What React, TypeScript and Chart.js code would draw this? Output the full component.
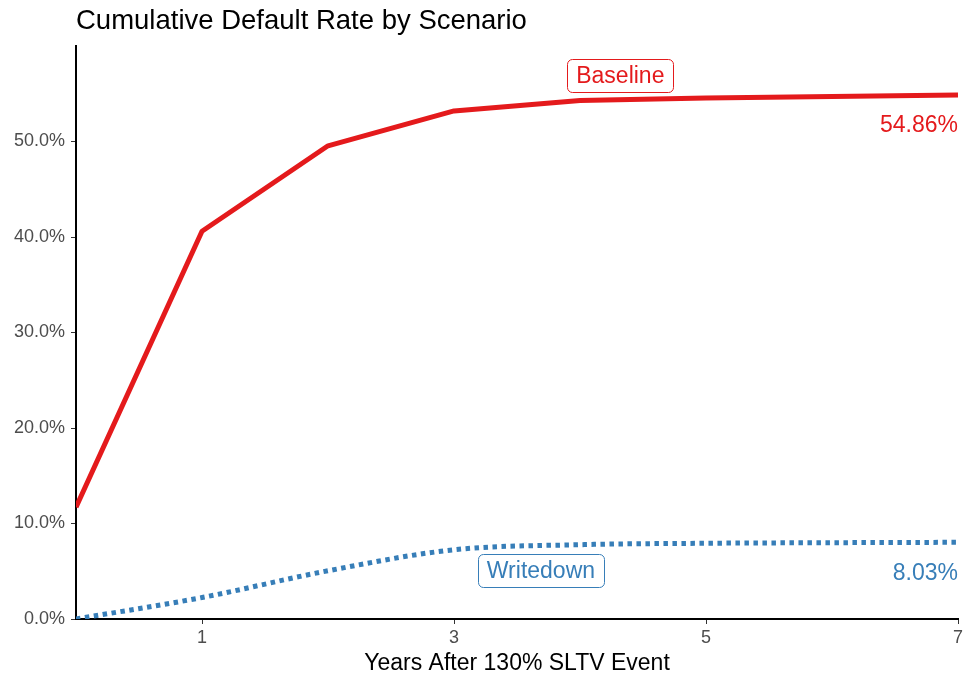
import { useEffect, useRef } from 'react';
import { Chart, registerables } from 'chart.js';

Chart.register(...registerables);

// ---- Data ----
const years = [0, 1, 2, 3, 4, 5, 6, 7];
const baselineRate = [11.7, 40.6, 49.55, 53.2, 54.3, 54.55, 54.72, 54.86];
const writedownRate = [0, 2.25, 5.05, 7.25, 7.78, 7.93, 7.99, 8.03];
const yTickValues = [0, 10, 20, 30, 40, 50];
const xTickValues = [1, 3, 5, 7];
const seriesNames = ['Baseline', 'Writedown'];
const chartTitle = 'Cumulative Default Rate by Scenario';
const xAxisTitle = 'Years After 130% SLTV Event';

// ---- Styling / label anchors ----
const RED = '#E41A1C';
const BLUE = '#377EB8';
const FONT = '"Liberation Sans", Arial, Helvetica, sans-serif';
const nameLabelAnchors = [
  { x: 4.32, y: 56.95 },
  { x: 3.69, y: 5.13 },
];
const VALUE_LABEL_OFFSET = 29; // px below last point

function roundRect(ctx: CanvasRenderingContext2D, x: number, y: number, w: number, h: number, r: number) {
  ctx.beginPath();
  ctx.moveTo(x + r, y);
  ctx.lineTo(x + w - r, y);
  ctx.arcTo(x + w, y, x + w, y + r, r);
  ctx.lineTo(x + w, y + h - r);
  ctx.arcTo(x + w, y + h, x + w - r, y + h, r);
  ctx.lineTo(x + r, y + h);
  ctx.arcTo(x, y + h, x, y + h - r, r);
  ctx.lineTo(x, y + r);
  ctx.arcTo(x, y, x + r, y, r);
  ctx.closePath();
}

const textPlugin = {
  id: 'customTexts',
  afterDraw(chart: any) {
    const { ctx, chartArea, scales } = chart;
    const xs = scales.x;
    const ys = scales.y;
    ctx.save();
    // Title
    ctx.fillStyle = '#000';
    ctx.font = `27.5px ${FONT}`;
    ctx.textAlign = 'left';
    ctx.textBaseline = 'alphabetic';
    ctx.fillText(chartTitle, chartArea.left, 29);
    // X axis title
    ctx.font = `23px ${FONT}`;
    ctx.textAlign = 'center';
    ctx.fillText(xAxisTitle, (chartArea.left + chartArea.right) / 2, 670);

    const series = [baselineRate, writedownRate];
    const colors = [RED, BLUE];
    const fs = 23;
    ctx.font = `${fs}px ${FONT}`;
    series.forEach((vals, i) => {
      const col = colors[i];
      // name label box
      const a = nameLabelAnchors[i];
      const cx = xs.getPixelForValue(a.x);
      const cy = ys.getPixelForValue(a.y);
      const tw = ctx.measureText(seriesNames[i]).width;
      const bw = tw + 18;
      const bh = 33;
      roundRect(ctx, Math.round(cx - bw / 2) + 0.5, Math.round(cy - bh / 2) + 0.5, Math.round(bw), bh, 5);
      ctx.fillStyle = '#fff';
      ctx.fill();
      ctx.lineWidth = 1;
      ctx.strokeStyle = col;
      ctx.stroke();
      ctx.fillStyle = col;
      ctx.textAlign = 'center';
      ctx.fillText(seriesNames[i], cx, cy + fs * 0.358);
      // value label at end
      const last = vals[vals.length - 1];
      const lx = xs.getPixelForValue(years[years.length - 1]);
      const ly = ys.getPixelForValue(last) + VALUE_LABEL_OFFSET;
      ctx.textAlign = 'right';
      ctx.fillText(last.toFixed(2) + '%', lx, ly + fs * 0.358);
    });
    ctx.restore();
  },
};

export default function App() {
  const canvasRef = useRef<HTMLCanvasElement | null>(null);

  useEffect(() => {
    const canvas = canvasRef.current;
    if (!canvas) return;
    const chart = new Chart(canvas, {
      type: 'line',
      data: {
        datasets: [
          {
            label: seriesNames[0],
            data: years.map((x, i) => ({ x, y: baselineRate[i] })),
            borderColor: RED,
            backgroundColor: RED,
            borderWidth: 5,
            pointRadius: 0,
            tension: 0,
            borderCapStyle: 'butt',
            borderJoinStyle: 'round',
          },
          {
            label: seriesNames[1],
            data: years.map((x, i) => ({ x, y: writedownRate[i] })),
            borderColor: BLUE,
            backgroundColor: BLUE,
            borderWidth: 5,
            borderDash: [4.5, 4.5],
            pointRadius: 0,
            cubicInterpolationMode: 'monotone',
            borderCapStyle: 'butt',
          },
        ],
      },
      options: {
        responsive: false,
        animation: false,
        events: [],
        layout: { padding: { top: 46, right: 9, left: 0, bottom: 0 } },
        plugins: {
          legend: { display: false },
          tooltip: { enabled: false },
          title: { display: false },
        },
        scales: {
          x: {
            type: 'linear',
            min: 0,
            max: 7,
            afterBuildTicks: (s: any) => {
              s.ticks = xTickValues.map((v) => ({ value: v }));
            },
            afterFit: (s: any) => {
              s.height = 59;
            },
            ticks: {
              color: '#4D4D4D',
              font: { size: 18, family: FONT },
              padding: 3,
              maxRotation: 0,
              autoSkip: false,
              callback: (v: any) => String(v),
            },
            grid: { display: true, drawOnChartArea: false, drawTicks: true, tickLength: 5, color: '#333', lineWidth: 1 },
            border: { display: true, color: '#000', width: 2 },
          },
          y: {
            type: 'linear',
            min: 0,
            max: 60,
            afterBuildTicks: (s: any) => {
              s.ticks = yTickValues.map((v) => ({ value: v }));
            },
            afterFit: (s: any) => {
              s.width = 76;
            },
            ticks: {
              color: '#4D4D4D',
              font: { size: 18, family: FONT },
              padding: 6,
              autoSkip: false,
              callback: (v: any) => Number(v).toFixed(1) + '%',
            },
            grid: { display: true, drawOnChartArea: false, drawTicks: true, tickLength: 5, color: '#333', lineWidth: 1 },
            border: { display: true, color: '#000', width: 2 },
          },
        },
      },
      plugins: [textPlugin],
    } as any);
    return () => chart.destroy();
  }, []);

  return (
    <div style={{ position: 'absolute', left: 0, top: 0, width: 967, height: 678, background: '#fff' }}>
      <canvas ref={canvasRef} width={967} height={678} style={{ display: 'block', width: 967, height: 678 }} />
    </div>
  );
}
